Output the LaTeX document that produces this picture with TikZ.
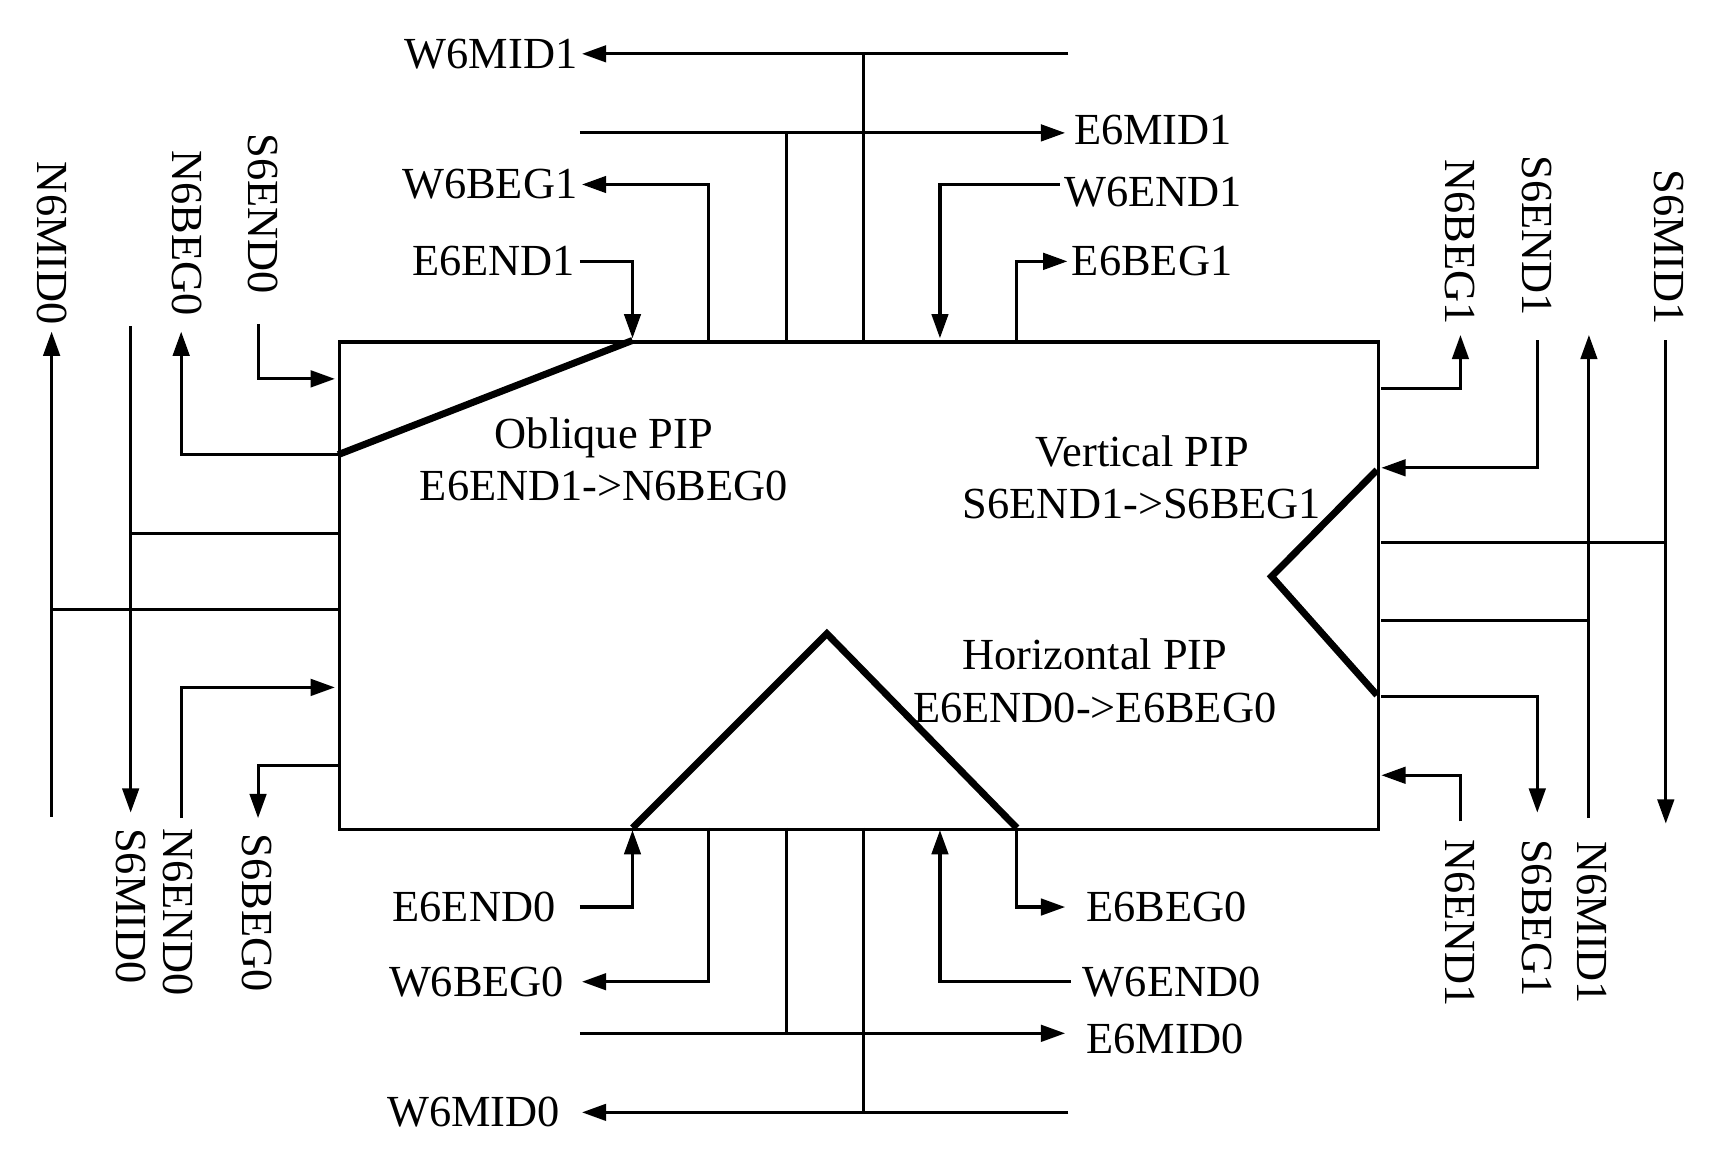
\documentclass[tikz,border=0pt]{standalone}
\usepackage{fontspec}
\setmainfont{Liberation Serif}
\usetikzlibrary{arrows.meta}
\begin{document}
\begin{tikzpicture}[x=0.01cm,y=-0.01cm,
  ln/.style={line width=0.8pt},
  ar/.style={ln,-{Triangle[length=0.22cm,width=0.15cm]}},
  pip/.style={line width=1.8pt},
  lb/.style={font=\fontsize{11.5}{13.5}\selectfont,inner sep=1pt},
  vl/.style={lb,rotate=-90}]
\useasboundingbox (0,0) rectangle (1560,1056);
\node[draw,ln,minimum width=946*0.01cm,minimum height=444*0.01cm,inner sep=0,anchor=north west] (box) at (308,310) {};
% PIPs
\draw[pip] (308,414) -- (576,310);
\draw[pip] (576,754) -- (753,577) -- (926,754);
\draw[pip] (1254,428) -- (1158,525) -- (1254,633);
\node[lb,align=center] (op) at (550,418) {Oblique PIP\\E6END1->N6BEG0};
\node[lb,align=center] (vp) at (1040,435) {Vertical PIP\\S6END1->S6BEG1};
\node[lb,align=center] (hp) at (997,620) {Horizontal PIP\\E6END0->E6BEG0};
% top
\node[lb,anchor=east] (w6mid1) at (530,49) {W6MID1};
\draw[ar] (973,49) -- (w6mid1.east); \draw[ln] (786,49) -- (786,310);
\node[lb,anchor=west] (e6mid1) at (974,118) {E6MID1};
\draw[ar] (528,121) -- (970,121); \draw[ln] (716,121) -- (716,310);
\node[lb,anchor=east] (w6beg1) at (530,168) {W6BEG1};
\draw[ar] (645,310) |- (w6beg1.east);
\node[lb,anchor=east] (e6end1) at (528,238) {E6END1};
\draw[ar] (e6end1.east) -| (576,308);
\node[lb,anchor=west] (w6end1) at (965,175) {W6END1};
\draw[ar] (965,168) -| (856,308);
\node[lb,anchor=west] (e6beg1) at (972,238) {E6BEG1};
\draw[ar] (926,310) |- (e6beg1.west);
% bottom
\node[lb,anchor=east] (e6end0) at (510,826) {E6END0};
\draw[ar] (528,826) -| (576,756);
\node[lb,anchor=east] (w6beg0) at (518,894) {W6BEG0};
\draw[ar] (645,754) |- (530,894);
\node[lb,anchor=west] (e6mid0) at (985,946) {E6MID0};
\draw[ar] (528,941) -- (970,941); \draw[ln] (716,754) -- (716,941);
\node[lb,anchor=east] (w6mid0) at (514,1013) {W6MID0};
\draw[ar] (973,1013) -- (530,1013); \draw[ln] (786,754) -- (786,1013);
\node[lb,anchor=west] (w6end0) at (982,894) {W6END0};
\draw[ar] (975,894) -| (856,756);
\node[lb,anchor=west] (e6beg0) at (985,826) {E6BEG0};
\draw[ar] (926,754) |- (970,826);
% left
\node[vl,anchor=east] (n6mid0) at (47,300) {N6MID0};
\draw[ar] (47,744) -- (47,302); \draw[ln] (47,555) -- (308,555);
\node[vl,anchor=west] (s6mid0) at (119,750) {S6MID0};
\draw[ar] (119,297) -- (119,740); \draw[ln] (119,486) -- (308,486);
\node[vl,anchor=east] (n6beg0) at (170,292) {N6BEG0};
\draw[ar] (308,414) -| (165,302);
\node[vl,anchor=east] (s6end0) at (240,272) {S6END0};
\draw[ar] (235,295) |- (305,345);
\node[vl,anchor=west] (n6end0) at (162,750) {N6END0};
\draw[ar] (165,745) |- (305,626);
\node[vl,anchor=west] (s6beg0) at (234,755) {S6BEG0};
\draw[ar] (308,697) -| (235,745);
% right
\node[vl,anchor=east] (n6beg1) at (1330,300) {N6BEG1};
\draw[ar] (1258,354) -| (1330,305);
\node[vl,anchor=east] (s6end1) at (1400,292) {S6END1};
\draw[ar] (1400,310) |- (1258,426);
\node[vl,anchor=west] (n6mid1) at (1450,762) {N6MID1};
\draw[ar] (1447,745) -- (1447,305); \draw[ln] (1258,565) -- (1447,565);
\node[vl,anchor=east] (s6mid1) at (1520,300) {S6MID1};
\draw[ar] (1517,310) -- (1517,750); \draw[ln] (1258,494) -- (1517,494);
\node[vl,anchor=west] (n6end1) at (1330,760) {N6END1};
\draw[ar] (1330,748) |- (1258,706);
\node[vl,anchor=west] (s6beg1) at (1400,760) {S6BEG1};
\draw[ar] (1258,634) -| (1400,740);
\end{tikzpicture}
\end{document}
